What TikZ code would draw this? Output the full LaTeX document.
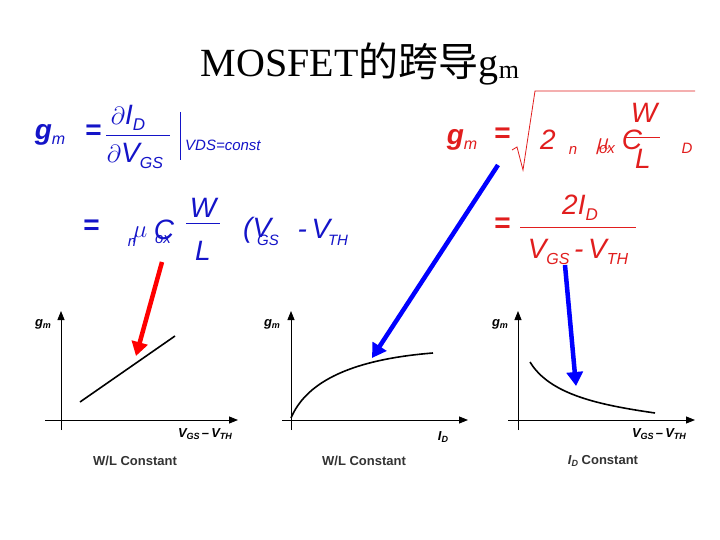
\documentclass[tikz,border=0pt]{standalone}
\usepackage{fontspec}
\setmainfont{Liberation Serif}
\newfontfamily\fsans{Liberation Sans}
\newfontfamily\cjk{Noto Sans CJK SC}
\usetikzlibrary{arrows.meta}
\definecolor{fblue}{RGB}{20,20,200}
\definecolor{fred}{RGB}{225,30,30}
\begin{document}
\begin{tikzpicture}[x=1pt,y=-1pt,
  fb/.style={text=fblue,font=\fsans\itshape\fontsize{28}{28}\selectfont,inner sep=0},
  fr/.style={text=fred,font=\fsans\itshape\fontsize{28}{28}\selectfont,inner sep=0},
  sb/.style={font=\fsans\itshape\fontsize{15}{15}\selectfont,inner sep=0},
  ax/.style={line width=0.9pt,-{Triangle[length=9pt,width=7pt]}},
  captext/.style={font=\fsans\bfseries\fontsize{13}{13}\selectfont,text=black!80,inner sep=0},
  gl/.style={font=\fsans\bfseries\itshape\fontsize{13}{13}\selectfont,inner sep=0},
  bigarrow/.style={line width=4.5pt,-{Triangle[length=14pt,width=16pt]}}]
\useasboundingbox (0,0) rectangle (720,540);
\fill[white] (0,0) rectangle (720,540);
% title
\node[font=\fontsize{40}{40}\selectfont,inner sep=0] (title) at (360,64) {MOSFET{\cjk 的跨导}g\raisebox{-0.1ex}{\fontsize{26}{26}\selectfont m}};
% left formulas
\node[fb] (g1) at (50,135) {\textbf{g}\raisebox{-0.3ex}{\fontsize{16}{16}\selectfont m}};
\node[fb] (e1) at (93,132) {\textbf{=}};
\node[fb] (n1) at (128,118) {$\partial$I\raisebox{-0.4ex}{\fontsize{17}{17}\selectfont D}};
\draw[fblue,line width=1pt] (106,136) -- (170,136);
\node[fb] (d1) at (135,156) {$\partial$V\raisebox{-0.4ex}{\fontsize{16}{16}\selectfont GS}};
\draw[fblue,line width=1pt] (180,112) -- (180,160);
\node[sb,text=fblue,anchor=west] (vds) at (185,145) {VDS=const};
\node[fb] (e2) at (91,227) {\textbf{=}};
\node[fb] (mu1) at (140,235) {$\mu$};
\node[fb] (c1) at (164,230) {C};
\node[sb,text=fblue] (ox1) at (163,240) {ox};
\node[sb,text=fblue] (nn1) at (132,242) {n};
\node[fb] (w1) at (203,208) {W};
\draw[fblue,line width=1pt] (186,224) -- (220,224);
\node[fb] (l1) at (203,251) {L};
\node[fb,anchor=west] (p1) at (243,230) {(V};
\node[sb,text=fblue] (gs1) at (268,240) {GS};
\node[fb] (m1) at (314,229) {-\,V};
\node[sb,text=fblue] (th1) at (338,240) {TH};
% right formulas
\node[fr] (g2) at (462,140) {\textbf{g}\raisebox{-0.3ex}{\fontsize{16}{16}\selectfont m}};
\node[fr] (e3) at (502,135) {\textbf{=}};
\draw[fred,line width=0.8pt] (512,150) -- (517,147) -- (523,170) -- (535,91) -- (695,91);
\node[fr] (two) at (548,140) {2};
\node[sb,text=fred] (n2) at (573,150) {n};
\node[fr] (mu2) at (603,147) {$\mu$};
\node[fr] (c2) at (632,140) {C};
\node[sb,text=fred] (ox2) at (607,150) {ox};
\node[fr] (w2) at (644,113) {W};
\draw[fred,line width=1pt] (626,138) -- (660,138);
\node[fr] (l2) at (643,159) {L};
\node[sb,text=fred] (dd) at (687,148) {D};
\node[fr] (e4) at (502,225) {\textbf{=}};
\node[fr] (num) at (580,208) {2I\raisebox{-0.4ex}{\fontsize{17}{17}\selectfont D}};
\draw[fred,line width=1pt] (520,228) -- (636,228);
\node[fr] (den) at (578,252) {V\raisebox{-0.4ex}{\fontsize{16}{16}\selectfont GS}\,-\,V\raisebox{-0.4ex}{\fontsize{16}{16}\selectfont TH}};
% graph 1
\coordinate (y1a) at (61,430); \coordinate (y1b) at (61,311);
\coordinate (x1a) at (45,420); \coordinate (x1b) at (238,420);
\draw[ax] (y1a) -- (y1b);
\draw[ax] (x1a) -- (x1b);
\node[gl] (gm1) at (43,324) {g\raisebox{-0.3ex}{\fontsize{9}{9}\selectfont m}};
\coordinate (c1a) at (80,402); \coordinate (c1b) at (175,336);
\draw[line width=1.6pt] (c1a) -- (c1b);
\node[gl] (xl1) at (205,434) {V\raisebox{-0.3ex}{\fontsize{9}{9}\selectfont GS}\,\textendash\,V\raisebox{-0.3ex}{\fontsize{9}{9}\selectfont TH}};
\node[captext] (cap1) at (135,461) {W/L Constant};
% graph 2
\coordinate (y2a) at (291,430); \coordinate (y2b) at (291,311);
\coordinate (x2a) at (282,420); \coordinate (x2b) at (468,420);
\draw[ax] (y2a) -- (y2b);
\draw[ax] (x2a) -- (x2b);
\node[gl] (gm2) at (272,324) {g\raisebox{-0.3ex}{\fontsize{9}{9}\selectfont m}};
\coordinate (c2a) at (291,418); \coordinate (c2b) at (433,353);
\draw[line width=1.6pt] (c2a) .. controls (305,385) and (345,360) .. (c2b);
\node[gl] (xl2) at (443,437) {I\raisebox{-0.3ex}{\fontsize{9}{9}\selectfont D}};
\node[captext] (cap2) at (364,461) {W/L Constant};
% graph 3
\coordinate (y3a) at (518,430); \coordinate (y3b) at (518,311);
\coordinate (x3a) at (508,420); \coordinate (x3b) at (695,420);
\draw[ax] (y3a) -- (y3b);
\draw[ax] (x3a) -- (x3b);
\node[gl] (gm3) at (500,324) {g\raisebox{-0.3ex}{\fontsize{9}{9}\selectfont m}};
\coordinate (c3a) at (530,362); \coordinate (c3b) at (655,413);
\draw[line width=1.6pt] (c3a) .. controls (550,395) and (600,405) .. (c3b);
\node[gl] (xl3) at (659,434) {V\raisebox{-0.3ex}{\fontsize{9}{9}\selectfont GS}\,\textendash\,V\raisebox{-0.3ex}{\fontsize{9}{9}\selectfont TH}};
\node[captext] (cap3) at (603,461) {{\itshape I\raisebox{-0.3ex}{\fontsize{9}{9}\selectfont D}} Constant};
% arrows
\coordinate (ra) at (162,262); \coordinate (rb) at (136,356);
\draw[bigarrow,red] (ra) -- (rb);
\coordinate (ba) at (498,165); \coordinate (bb) at (372,358);
\draw[bigarrow,blue] (ba) -- (bb);
\coordinate (ca) at (565,265); \coordinate (cb) at (576,386);
\draw[bigarrow,blue] (ca) -- (cb);
\end{tikzpicture}
\end{document}
